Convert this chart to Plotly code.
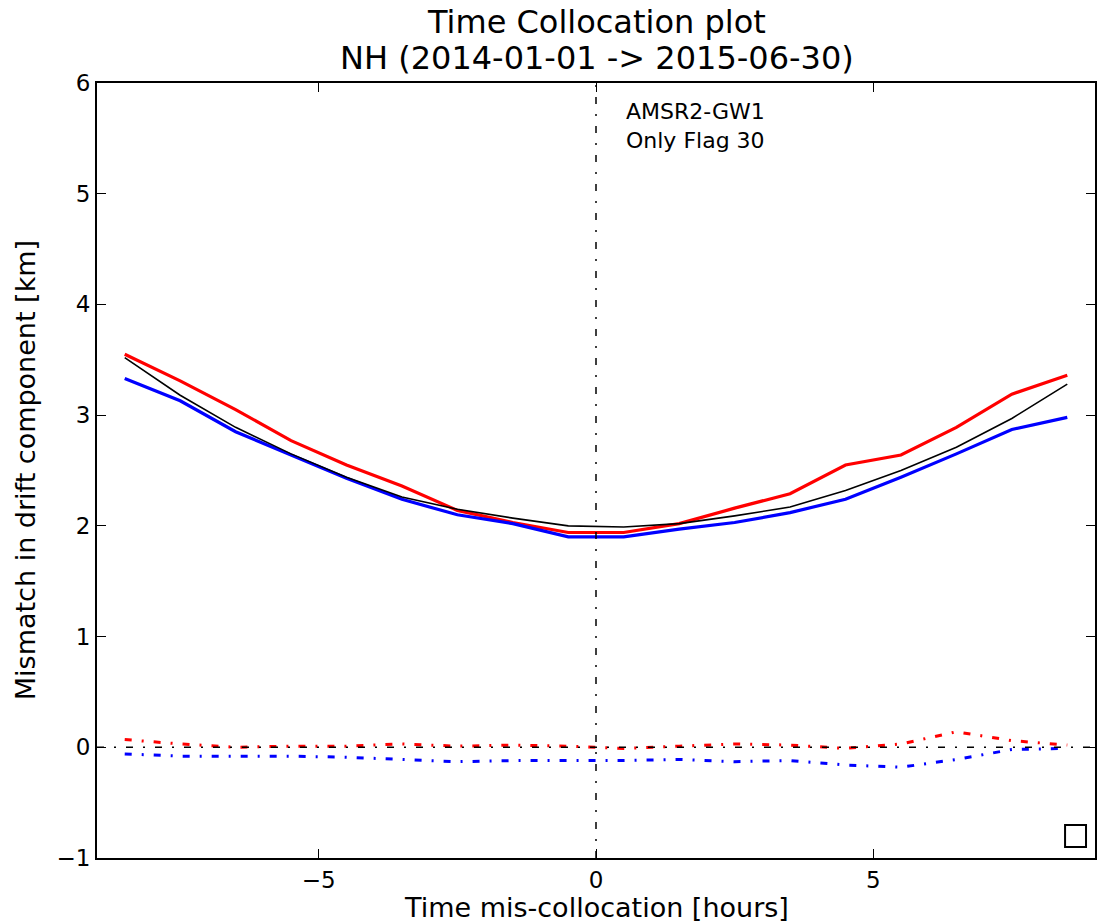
import plotly.graph_objects as go

# ---- data ----
x_hours = [-8.5, -7.5, -6.5, -5.5, -4.5, -3.5, -2.5, -1.5, -0.5,
           0.5, 1.5, 2.5, 3.5, 4.5, 5.5, 6.5, 7.5, 8.5]
total_mismatch = [3.52, 3.18, 2.89, 2.65, 2.44, 2.26, 2.15, 2.07, 2.00,
                  1.99, 2.02, 2.09, 2.17, 2.32, 2.50, 2.71, 2.97, 3.28]
red_mismatch = [3.55, 3.31, 3.05, 2.77, 2.55, 2.36, 2.14, 2.03, 1.94,
                1.94, 2.02, 2.16, 2.29, 2.55, 2.64, 2.89, 3.19, 3.36]
blue_mismatch = [3.33, 3.13, 2.85, 2.64, 2.43, 2.24, 2.10, 2.02, 1.90,
                 1.90, 1.97, 2.03, 2.12, 2.24, 2.44, 2.65, 2.87, 2.98]
red_bias = [0.07, 0.03, 0.00, 0.01, 0.01, 0.03, 0.01, 0.02, 0.01,
            -0.01, 0.01, 0.03, 0.02, -0.01, 0.03, 0.14, 0.06, 0.02]
blue_bias = [-0.06, -0.08, -0.08, -0.08, -0.09, -0.11, -0.13, -0.12, -0.12,
             -0.12, -0.11, -0.13, -0.12, -0.16, -0.18, -0.11, -0.02, -0.01]

x_ticks = [-5, 0, 5]
y_ticks = [-1, 0, 1, 2, 3, 4, 5, 6]
title_lines = ["Time Collocation plot", "NH (2014-01-01 -> 2015-06-30)"]
note_lines = ["AMSR2-GW1", "Only Flag 30"]
x_label = "Time mis-collocation [hours]"
y_label = "Mismatch in drift component [km]"

FONT = "DejaVu Sans"
DD = "7px,10px,2px,10px"

fig = go.Figure()
fig.add_trace(go.Scatter(x=x_hours, y=red_bias, mode="lines",
                         line=dict(color="#ff0000", width=3, dash=DD)))
fig.add_trace(go.Scatter(x=x_hours, y=blue_bias, mode="lines",
                         line=dict(color="#0000ff", width=3, dash=DD)))
fig.add_trace(go.Scatter(x=x_hours, y=red_mismatch, mode="lines",
                         line=dict(color="#ff0000", width=3.2)))
fig.add_trace(go.Scatter(x=x_hours, y=blue_mismatch, mode="lines",
                         line=dict(color="#0000ff", width=3.2)))
fig.add_trace(go.Scatter(x=x_hours, y=total_mismatch, mode="lines",
                         line=dict(color="#000000", width=1.6)))

# zero reference lines
fig.add_shape(type="line", xref="x", yref="paper", x0=0, x1=0, y0=0, y1=1,
              line=dict(color="black", width=1.5, dash=DD))
fig.add_shape(type="line", xref="paper", yref="y", x0=0, x1=1, y0=0, y1=0,
              line=dict(color="black", width=1.5, dash=DD))
# empty legend box
fig.add_shape(type="rect", xref="paper", yref="paper",
              x0=0.970, x1=0.991, y0=0.0142, y1=0.0426,
              line=dict(color="black", width=2), fillcolor="white")

fig.add_annotation(x=0.5, y=5.87, xref="x", yref="y", xanchor="left", yanchor="top",
                   text="<br>".join(note_lines), showarrow=False, align="left",
                   font=dict(family=FONT, size=22, color="black"))

# titles
fig.add_annotation(x=0.501, y=1.0787, xref="paper", yref="paper", xanchor="center",
                   yanchor="middle", text=title_lines[0], showarrow=False,
                   font=dict(family=FONT, size=32, color="black"))
fig.add_annotation(x=0.501, y=1.0323, xref="paper", yref="paper", xanchor="center",
                   yanchor="middle", text=title_lines[1], showarrow=False,
                   font=dict(family=FONT, size=32, color="black"))
fig.add_annotation(x=0.501, y=-0.0645, xref="paper", yref="paper", xanchor="center",
                   yanchor="middle", text=x_label, showarrow=False,
                   font=dict(family=FONT, size=27, color="black"))
fig.add_annotation(x=-0.072, y=0.5006, xref="paper", yref="paper", xanchor="center",
                   yanchor="middle", text=y_label, showarrow=False, textangle=-90,
                   font=dict(family=FONT, size=27, color="black"))

fig.update_layout(
    width=1099, height=924,
    margin=dict(l=97, r=2, t=83, b=66),
    paper_bgcolor="white", plot_bgcolor="white",
    showlegend=False,
    font=dict(family=FONT, size=20, color="black"),
)
fig.update_xaxes(range=[-9, 9], tickvals=x_ticks, ticks="inside", ticklen=9,
                 tickwidth=1.2, tickcolor="black", showline=True, linecolor="black",
                 linewidth=1.8, mirror="ticks", showgrid=False, zeroline=False,
                 tickfont=dict(family=FONT, size=23))
fig.update_yaxes(range=[-1, 6], tickvals=y_ticks, ticks="inside", ticklen=9,
                 tickwidth=1.2, tickcolor="black", showline=True, linecolor="black",
                 linewidth=1.8, mirror="ticks", showgrid=False, zeroline=False,
                 tickfont=dict(family=FONT, size=23))

fig.write_html("out.html", config={"displayModeBar": False},
               post_script="document.body.style.margin='0';")
